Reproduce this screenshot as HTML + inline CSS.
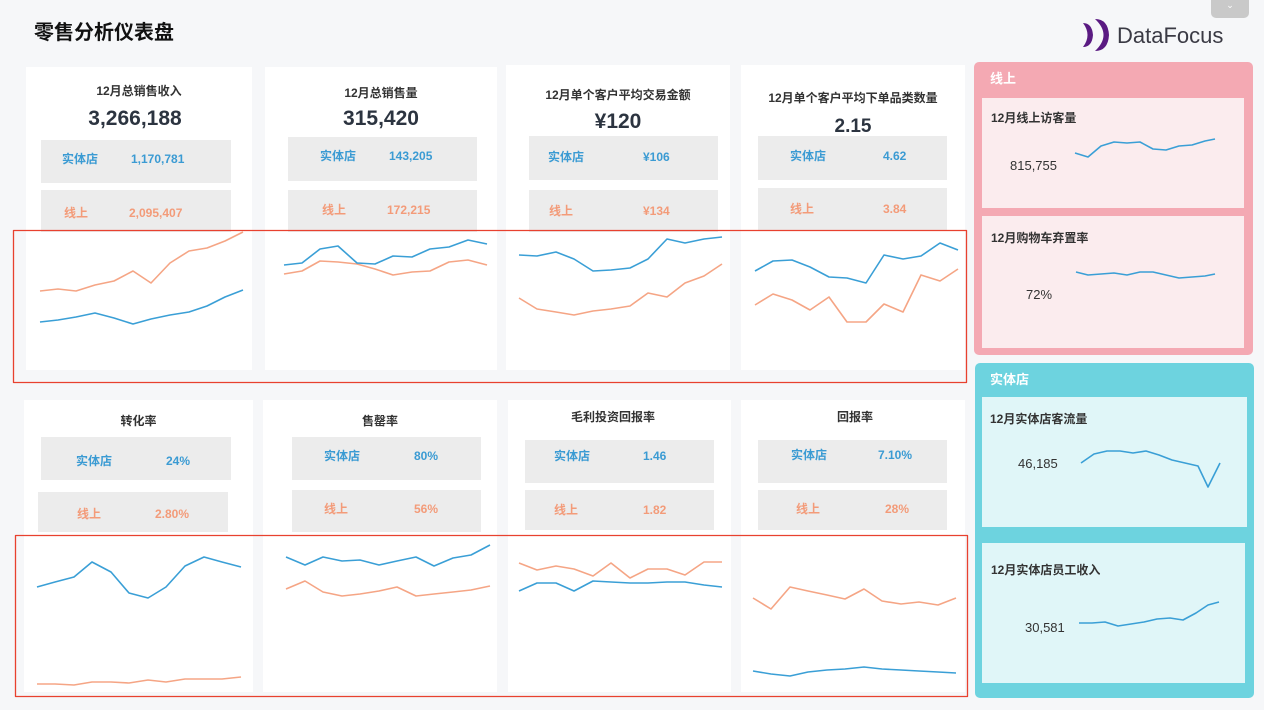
<!DOCTYPE html>
<html><head><meta charset="utf-8"><style>
*{margin:0;padding:0;box-sizing:border-box}
body{width:1264px;height:710px;overflow:hidden;background:#f6f7f9;font-family:"Liberation Sans","Noto Sans CJK SC",sans-serif;position:relative}
.a{position:absolute}
.card{position:absolute;background:#fff}
.box{position:absolute;background:#ececec}
.t{position:absolute;font-size:12px;line-height:16px;white-space:nowrap;font-weight:bold}
.b{color:#3b9bd3}.o{color:#f39b79}
.h{position:absolute;font-size:12px;font-weight:bold;color:#333;line-height:16px;text-align:center;white-space:nowrap}
.big{position:absolute;font-size:21px;font-weight:bold;color:#2c3440;line-height:24px;text-align:center}
svg{position:absolute;left:0;top:0}
</style></head><body>
<div class="a" style="left:34px;top:20px;font-size:20px;font-weight:bold;color:#111;line-height:26px">零售分析仪表盘</div>
<div class="a" style="left:1211px;top:0;width:38px;height:18px;background:#c9c9c9;border-radius:0 0 5px 5px;color:#fff;font-size:9px;text-align:center">⌄</div>
<svg width="1264" height="710" style="z-index:0">
<path d="M1083,23 Q1092,35 1083,47 Q1092,47 1093,35 Q1092,23 1083,23Z" fill="#5a1a82"/>
<path d="M1095,19 Q1112,35 1095,51 Q1108,51 1109,35 Q1108,19 1095,19Z" fill="#5a1a82"/>
</svg>
<div class="a" style="left:1117px;top:22px;font-size:22px;color:#3a3a44;line-height:28px">DataFocus</div>

<div class="card" style="left:26px;top:67px;width:226px;height:303px"></div>
<div class="card" style="left:265px;top:67px;width:232px;height:303px"></div>
<div class="card" style="left:506px;top:65px;width:224px;height:305px"></div>
<div class="card" style="left:741px;top:65px;width:224px;height:305px"></div>
<div class="card" style="left:24px;top:400px;width:229px;height:292px"></div>
<div class="card" style="left:263px;top:400px;width:234px;height:292px"></div>
<div class="card" style="left:508px;top:400px;width:223px;height:292px"></div>
<div class="card" style="left:741px;top:400px;width:224px;height:292px"></div>

<div class="h" style="left:26px;width:226px;top:83px">12月总销售收入</div>
<div class="big" style="left:26px;width:218px;top:107px">3,266,188</div>
<div class="h" style="left:265px;width:232px;top:85px">12月总销售量</div>
<div class="big" style="left:265px;width:232px;top:107px">315,420</div>
<div class="h" style="left:506px;width:224px;top:87px">12月单个客户平均交易金额</div>
<div class="big" style="left:506px;width:224px;top:110px">¥120</div>
<div class="h" style="left:741px;width:224px;top:90px">12月单个客户平均下单品类数量</div>
<div class="big" style="left:741px;width:224px;top:115px;font-size:19px">2.15</div>

<div class="box" style="left:41px;top:140px;width:190px;height:43px"></div>
<div class="box" style="left:41px;top:190px;width:190px;height:42px"></div>
<div class="box" style="left:288px;top:137px;width:189px;height:44px"></div>
<div class="box" style="left:288px;top:190px;width:189px;height:42px"></div>
<div class="box" style="left:529px;top:136px;width:189px;height:44px"></div>
<div class="box" style="left:529px;top:190px;width:189px;height:42px"></div>
<div class="box" style="left:758px;top:136px;width:189px;height:44px"></div>
<div class="box" style="left:758px;top:188px;width:189px;height:42px"></div>

<div class="t b" style="left:62px;top:151px">实体店</div><div class="t b" style="left:131px;top:151px">1,170,781</div>
<div class="t o" style="left:64px;top:205px">线上</div><div class="t o" style="left:129px;top:205px">2,095,407</div>
<div class="t b" style="left:320px;top:148px">实体店</div><div class="t b" style="left:389px;top:148px">143,205</div>
<div class="t o" style="left:322px;top:202px">线上</div><div class="t o" style="left:387px;top:202px">172,215</div>
<div class="t b" style="left:548px;top:149px">实体店</div><div class="t b" style="left:643px;top:149px">¥106</div>
<div class="t o" style="left:549px;top:203px">线上</div><div class="t o" style="left:643px;top:203px">¥134</div>
<div class="t b" style="left:790px;top:148px">实体店</div><div class="t b" style="left:883px;top:148px">4.62</div>
<div class="t o" style="left:790px;top:201px">线上</div><div class="t o" style="left:883px;top:201px">3.84</div>

<div class="h" style="left:24px;width:229px;top:413px">转化率</div>
<div class="h" style="left:263px;width:234px;top:413px">售罄率</div>
<div class="h" style="left:508px;width:210px;top:409px">毛利投资回报率</div>
<div class="h" style="left:741px;width:228px;top:409px">回报率</div>

<div class="box" style="left:41px;top:437px;width:190px;height:43px"></div>
<div class="box" style="left:38px;top:492px;width:190px;height:40px"></div>
<div class="box" style="left:292px;top:437px;width:189px;height:43px"></div>
<div class="box" style="left:292px;top:490px;width:189px;height:42px"></div>
<div class="box" style="left:525px;top:440px;width:189px;height:43px"></div>
<div class="box" style="left:525px;top:490px;width:189px;height:40px"></div>
<div class="box" style="left:758px;top:440px;width:189px;height:43px"></div>
<div class="box" style="left:758px;top:490px;width:189px;height:40px"></div>

<div class="t b" style="left:76px;top:453px">实体店</div><div class="t b" style="left:166px;top:453px">24%</div>
<div class="t o" style="left:77px;top:506px">线上</div><div class="t o" style="left:155px;top:506px">2.80%</div>
<div class="t b" style="left:324px;top:448px">实体店</div><div class="t b" style="left:414px;top:448px">80%</div>
<div class="t o" style="left:324px;top:501px">线上</div><div class="t o" style="left:414px;top:501px">56%</div>
<div class="t b" style="left:554px;top:448px">实体店</div><div class="t b" style="left:643px;top:448px">1.46</div>
<div class="t o" style="left:554px;top:502px">线上</div><div class="t o" style="left:643px;top:502px">1.82</div>
<div class="t b" style="left:791px;top:447px">实体店</div><div class="t b" style="left:878px;top:447px">7.10%</div>
<div class="t o" style="left:796px;top:501px">线上</div><div class="t o" style="left:885px;top:501px">28%</div>

<div class="a" style="left:974px;top:62px;width:279px;height:293px;background:#f4a9b3;border-radius:5px"></div>
<div class="a" style="left:982px;top:98px;width:262px;height:110px;background:#fbecee"></div>
<div class="a" style="left:982px;top:216px;width:262px;height:132px;background:#fbecee"></div>
<div class="a" style="left:975px;top:363px;width:279px;height:335px;background:#6dd3df;border-radius:5px"></div>
<div class="a" style="left:982px;top:397px;width:265px;height:130px;background:#e0f6f8"></div>
<div class="a" style="left:982px;top:543px;width:263px;height:140px;background:#e0f6f8"></div>
<div class="t" style="left:990px;top:71px;color:#fff;font-size:13px">线上</div>
<div class="t" style="left:990px;top:372px;color:#fff;font-size:13px">实体店</div>
<div class="t" style="left:991px;top:110px;color:#333">12月线上访客量</div>
<div class="a" style="left:1010px;top:158px;font-size:13px;color:#333">815,755</div>
<div class="t" style="left:991px;top:230px;color:#333">12月购物车弃置率</div>
<div class="a" style="left:1026px;top:287px;font-size:13px;color:#333">72%</div>
<div class="t" style="left:990px;top:411px;color:#333">12月实体店客流量</div>
<div class="a" style="left:1018px;top:456px;font-size:13px;color:#333">46,185</div>
<div class="t" style="left:991px;top:562px;color:#333">12月实体店员工收入</div>
<div class="a" style="left:1025px;top:620px;font-size:13px;color:#333">30,581</div>

<svg width="1264" height="710" fill="none" stroke-width="1.6" stroke-linejoin="round">
<g stroke="#f5a585">
<polyline points="40,291 58,289 76,291 95,285 114,281 133,271 151,283 170,263 189,251 207,248 225,241 243,232"/>
<polyline points="284,274 302,271 320,261 338,262 357,264 375,269 393,275 412,272 430,271 449,262 468,260 487,265"/>
<polyline points="519,298 537,309 556,312 574,315 593,311 611,309 630,306 648,293 667,297 685,283 704,276 722,264"/>
<polyline points="755,305 773,294 792,300 810,310 829,297 847,322 866,322 884,304 903,312 921,275 940,281 958,269"/>
<polyline points="37,684 55,684 74,685 92,682 111,682 129,683 148,680 166,682 185,679 204,679 222,679 241,677"/>
<polyline points="286,589 305,581 323,592 342,596 360,594 379,591 397,587 416,596 434,594 453,592 471,590 490,586"/>
<polyline points="519,563 537,570 556,566 574,569 593,576 611,563 630,578 648,569 667,569 685,575 704,562 722,562"/>
<polyline points="753,598 771,609 790,587 808,591 827,595 845,599 864,589 882,601 901,604 919,602 938,605 956,598"/>
</g>
<g stroke="#3a9fd6">
<polyline points="40,322 58,320 76,317 95,313 114,318 133,324 151,319 170,315 189,312 207,306 225,297 243,290"/>
<polyline points="284,265 302,263 320,249 338,246 357,263 375,264 393,256 412,257 430,249 449,247 468,240 487,244"/>
<polyline points="519,255 537,256 556,252 574,259 593,271 611,270 630,268 648,259 667,239 685,243 704,239 722,237"/>
<polyline points="755,271 773,261 792,260 810,267 829,277 847,278 866,283 884,255 903,259 921,256 940,243 958,250"/>
<polyline points="37,587 55,582 74,577 92,562 111,572 129,593 148,598 166,587 185,566 204,557 222,562 241,567"/>
<polyline points="286,557 305,565 323,557 342,561 360,560 379,565 397,561 416,557 434,566 453,558 471,555 490,545"/>
<polyline points="519,591 537,583 556,583 574,591 593,581 611,582 630,583 648,583 667,582 685,582 704,585 722,587"/>
<polyline points="753,671 771,674 790,676 808,672 827,670 845,669 864,667 882,669 901,670 919,671 938,672 956,673"/>
<polyline points="1075,153 1088,157 1101,146 1114,142 1127,143 1140,142 1153,149 1166,150 1179,146 1192,145 1205,141 1215,139"/>
<polyline points="1076,272 1088,275 1101,274 1114,273 1127,275 1140,272 1153,272 1166,275 1179,278 1192,277 1205,276 1215,274"/>
<polyline points="1081,463 1094,454 1107,451 1120,451 1133,453 1146,451 1159,455 1172,460 1185,463 1198,466 1208,487 1220,463"/>
<polyline points="1079,623 1092,623 1105,622 1118,626 1131,624 1144,622 1157,619 1170,618 1183,620 1196,613 1208,605 1219,602"/>
</g>
<rect x="13.5" y="230.5" width="953" height="152" stroke="#e8412f" stroke-width="1.3"/>
<rect x="15.5" y="535.5" width="952" height="161" stroke="#e8412f" stroke-width="1.3"/>
</svg>
</body></html>
